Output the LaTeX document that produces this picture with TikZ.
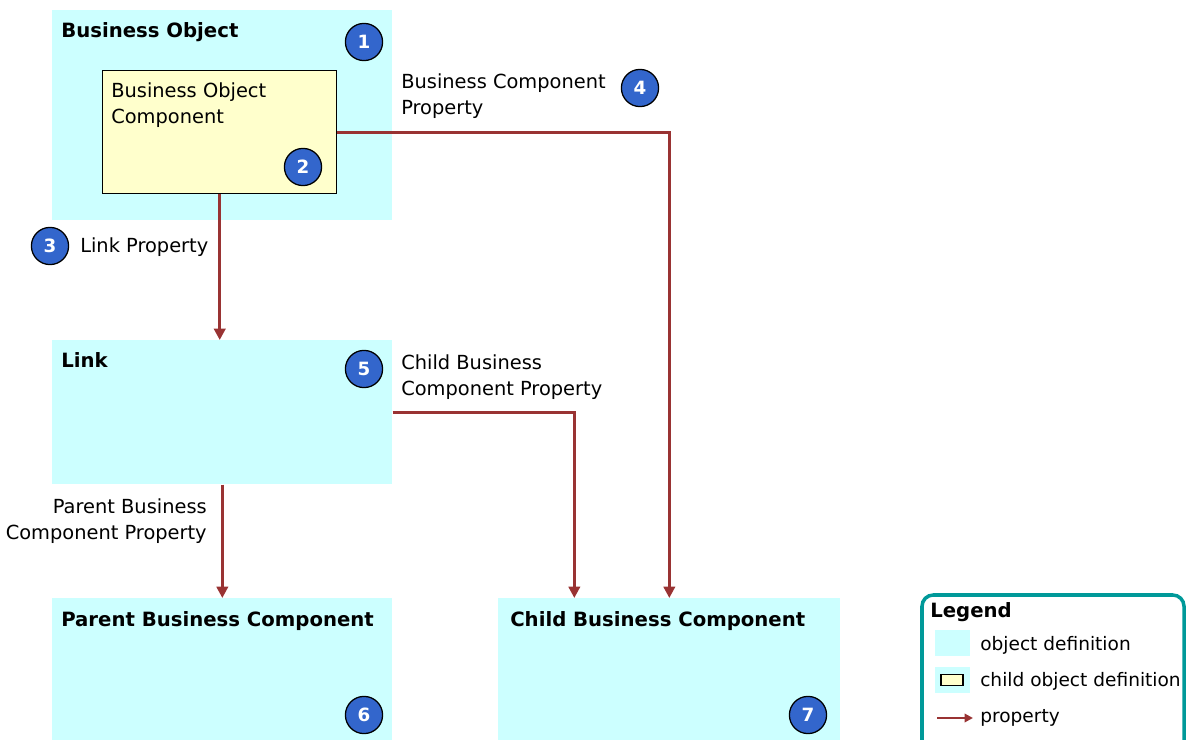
\documentclass[tikz,border=0pt]{standalone}
\usepackage{fontspec}
\setmainfont{DejaVu Sans}
\usetikzlibrary{arrows.meta,positioning,calc}

\definecolor{objcyan}{HTML}{CCFFFF}
\definecolor{childyellow}{HTML}{FFFFCC}
\definecolor{propred}{HTML}{993333}
\definecolor{badgeblue}{HTML}{3366CC}
\definecolor{legendteal}{HTML}{009999}

\tikzset{
  objbox/.style={fill=objcyan, anchor=north west, inner sep=0pt},
  childbox/.style={fill=childyellow, draw=black, line width=1pt, anchor=north west, inner sep=0pt},
  boxtitle/.style={anchor=base west, font=\bfseries\fontsize{14}{17}\selectfont, inner sep=0pt},
  lbl/.style={font=\fontsize{13.8}{18.5}\selectfont, inner sep=0pt, align=left},
  badge/.style={circle, fill=badgeblue, draw=black, line width=0.9pt, minimum size=0.93cm,
    inner sep=0pt, text=white, font=\bfseries\fontsize{13}{13}\selectfont},
  prop/.style={draw=propred, line width=2pt, -{Triangle[length=8pt,width=8pt]}},
}

\begin{document}
\begin{tikzpicture}[x=0.025cm,y=-0.025cm]
  \useasboundingbox (0,0) rectangle (1186,740);
  % object definitions
  \node[objbox, minimum width=8.5cm, minimum height=5.25cm] (bo) at (52,10) {};
  \node[childbox, minimum width=5.85cm, minimum height=3.075cm] (boc) at (102,70) {};
  \node[objbox, minimum width=8.5cm, minimum height=3.6cm] (link) at (52,340) {};
  \node[objbox, minimum width=8.5cm, minimum height=3.6cm] (pbc) at (52,598) {};
  \node[objbox, minimum width=8.55cm, minimum height=3.6cm] (cbc) at (498,598) {};
  % titles
  \node[boxtitle] (botitle) at (61,38) {Business Object};
  \node[lbl, anchor=north west] (boctext) at (111,82) {Business Object\\Component};
  \node[boxtitle] (linktitle) at (61,368) {Link};
  \node[boxtitle] (pbctitle) at (61,627) {Parent Business Component};
  \node[boxtitle] (cbctitle) at (510,627) {Child Business Component};
  % badges
  \node[badge] (b1) at (364,42) {1};
  \node[badge] (b2) at (303,167) {2};
  \node[badge] (b3) at (50,246) {3};
  \node[badge] (b4) at (640,88) {4};
  \node[badge] (b5) at (364,369) {5};
  \node[badge] (b6) at (364,715) {6};
  \node[badge] (b7) at (808,715) {7};
  % properties
  \coordinate (childin) at ($(cbc.north)+(-95,0)$);
  \draw[prop] (boc.south) -- (boc.south |- link.north);
  \draw[prop] (boc.east) -| (cbc.north);
  \draw[prop] (link.east) -| (childin);
  \draw[prop] (link.south) -- (pbc.north);
  \node[lbl, anchor=west] (linkprop) at (80,247) {Link Property};
  \node[lbl, anchor=north west] (bcprop) at (401,73) {Business Component\\Property};
  \node[lbl, anchor=north west] (cbcprop) at (401,354) {Child Business\\Component Property};
  \node[lbl, anchor=north east, align=right] (pbcprop) at (207,498) {Parent Business\\Component Property};
  % legend
  \draw[legendteal, line width=2.5pt, rounded corners=8pt] (922,760) -- (922,595) -- (1184,595) -- (1184,760);
  \node[boxtitle, font=\bfseries\fontsize{14}{17}\selectfont] (legtitle) at (930,618) {Legend};
  \node[fill=objcyan, minimum width=0.875cm, minimum height=0.625cm, inner sep=0pt] (legobj) at (952,643) {};
  \node[fill=objcyan, minimum width=0.875cm, minimum height=0.625cm, inner sep=0pt] (legchild) at (952,680) {};
  \node[fill=childyellow, draw=black, line width=0.9pt, minimum width=0.55cm, minimum height=0.27cm, inner sep=0pt] (legchildin) at (legchild) {};
  \coordinate (legpa) at (937,718);
  \coordinate (legpb) at (973,718);
  \draw[prop, line width=1.8pt, -{Triangle[length=6pt,width=6pt]}] (legpa) -- (legpb);
  \node[lbl, anchor=west, font=\fontsize{13.2}{16}\selectfont] (legobjtext) at (980,645) {object definition};
  \node[lbl, anchor=west, font=\fontsize{13.2}{16}\selectfont] (legchildtext) at (980,681) {child object definition};
  \node[lbl, anchor=west, font=\fontsize{13.2}{16}\selectfont] (legproptext) at (980,718) {property};
\end{tikzpicture}
\end{document}
